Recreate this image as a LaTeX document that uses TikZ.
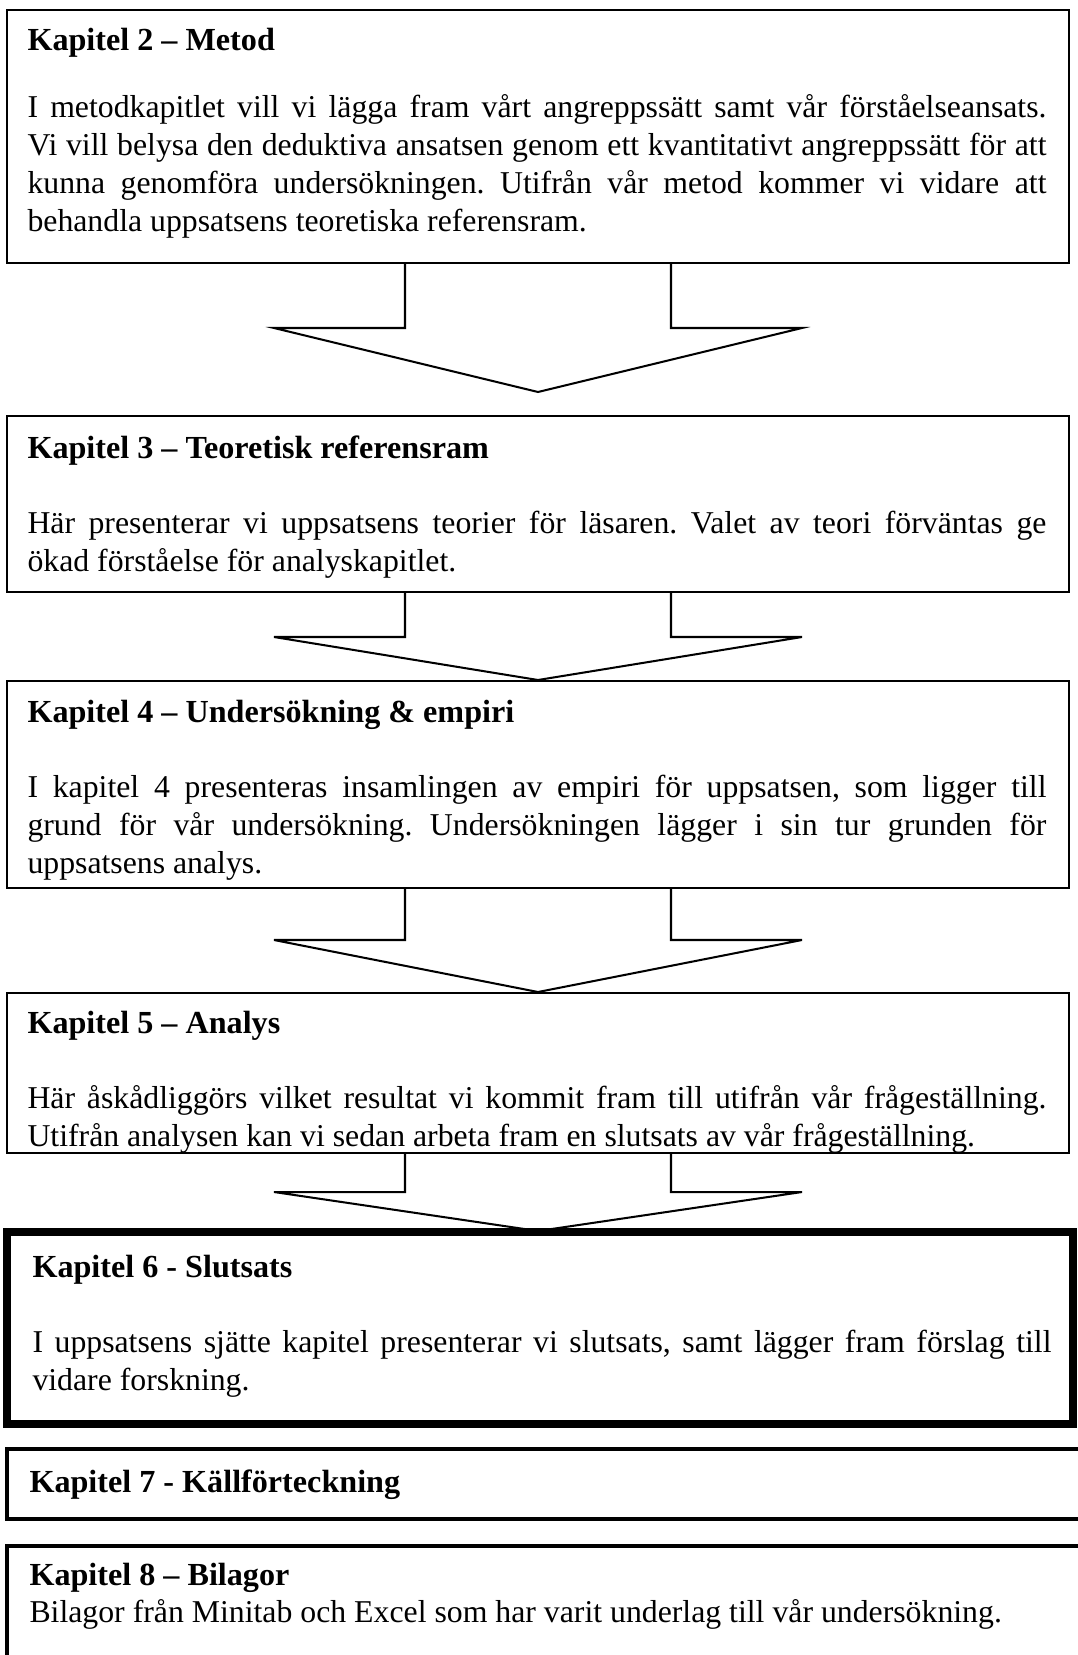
\documentclass[tikz,border=0pt]{standalone}
\usepackage{fontspec}
\setmainfont{Liberation Serif}
\usetikzlibrary{fit}
\frenchspacing

\begin{document}
\begin{tikzpicture}[
    x=0.395pt, y=-0.395pt,
    box/.style={rectangle, draw, line width=0.8pt, inner sep=0pt, outer sep=0pt},
    heavybox/.style={box, line width=3.2pt},
    midbox/.style={box, line width=1.6pt},
    title/.style={anchor=base west, inner sep=0pt, font=\fontsize{12.7}{15.1}\selectfont\bfseries},
    body/.style={anchor=base west, inner sep=0pt, text width=402.5pt, align=justify, font=\fontsize{12.55}{15.1}\selectfont},
    blockarrow/.style={draw, line width=0.8pt}
]
    \useasboundingbox (0,0) rectangle (1078,1655);
    \clip (0,0) rectangle (1078,1655);

    % chapter frames
    \node[box, fit={(7,10) (1069,263)}] (kap2) {};
    \node[box, fit={(7,416) (1069,592)}] (kap3) {};
    \node[box, fit={(7,681) (1069,888)}] (kap4) {};
    \node[box, fit={(7,993) (1069,1153)}] (kap5) {};
    \node[heavybox, fit={(7,1232) (1073,1424)}] (kap6) {};
    \node[midbox, fit={(7,1449) (1095,1519)}] (kap7) {};
    \node[midbox, fit={(7,1546) (1095,1680)}] (kap8) {};

    % block arrows between the frames
    \foreach \a/\s/\t in {kap2/65/129, kap3/45/88, kap4/52/104, kap5/39/78}
        \draw[blockarrow] (\a.south) +(-133,0) -- +(-133,\s) -- +(-264,\s) -- +(0,\t) -- +(264,\s) -- +(133,\s) -- +(133,0);

    % texts
    \node[title] (h2) at (27,50) {Kapitel 2 – Metod};
    \node[body] (t2) at (27,117) {I metodkapitlet vill vi lägga fram vårt angreppssätt samt vår förståelseansats.\linebreak
        Vi vill belysa den deduktiva ansatsen genom ett kvantitativt angreppssätt för att\linebreak
        kunna genomföra undersökningen. Utifrån vår metod kommer vi vidare att\linebreak
        behandla uppsatsens teoretiska referensram.};

    \node[title] (h3) at (27,458) {Kapitel 3 – Teoretisk referensram};
    \node[body] (t3) at (27,533) {Här presenterar vi uppsatsens teorier för läsaren. Valet av teori förväntas ge\linebreak
        ökad förståelse för analyskapitlet.};

    \node[title] (h4) at (27,722) {Kapitel 4 – Undersökning \& empiri};
    \node[body] (t4) at (27,797) {I kapitel 4 presenteras insamlingen av empiri för uppsatsen, som ligger till\linebreak
        grund för vår undersökning. Undersökningen lägger i sin tur grunden för\linebreak
        uppsatsens analys.};

    \node[title] (h5) at (27,1033) {Kapitel 5 – Analys};
    \node[body] (t5) at (27,1108) {Här åskådliggörs vilket resultat vi kommit fram till utifrån vår frågeställning.\linebreak
        Utifrån analysen kan vi sedan arbeta fram en slutsats av vår frågeställning.};

    \node[title] (h6) at (32,1277) {Kapitel 6 - Slutsats};
    \node[body] (t6) at (32,1352) {I uppsatsens sjätte kapitel presenterar vi slutsats, samt lägger fram förslag till\linebreak
        vidare forskning.};

    \node[title] (h7) at (29,1492) {Kapitel 7 - Källförteckning};

    \node[title] (h8) at (29,1585) {Kapitel 8 – Bilagor};
    \node[body] (t8) at (29,1622) {Bilagor från Minitab och Excel som har varit underlag till vår undersökning.};
\end{tikzpicture}
\end{document}
